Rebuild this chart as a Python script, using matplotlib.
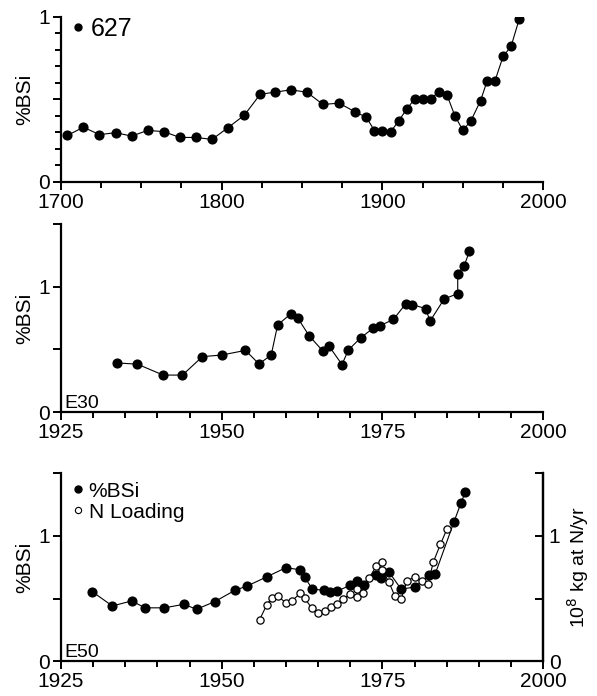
import matplotlib.pyplot as plt
from matplotlib.ticker import MultipleLocator, FixedLocator
from matplotlib.lines import Line2D

plt.rcParams['font.family'] = ['Liberation Sans', 'DejaVu Sans']

# コア 627
years_627 = [1704, 1714, 1724, 1734, 1744, 1754, 1764, 1774, 1784, 1794,
             1804, 1814, 1824, 1833, 1843, 1853, 1863, 1873, 1883, 1890,
             1895, 1900, 1905, 1910, 1915, 1920, 1925, 1930, 1935, 1940,
             1945, 1950, 1955, 1961, 1965, 1970, 1975, 1980, 1985]
bsi_627 = [0.28, 0.33, 0.285, 0.297, 0.276, 0.311, 0.303, 0.268, 0.268, 0.256,
           0.328, 0.402, 0.530, 0.542, 0.557, 0.542, 0.468, 0.476, 0.423, 0.390,
           0.309, 0.309, 0.301, 0.367, 0.439, 0.501, 0.501, 0.501, 0.546, 0.528,
           0.400, 0.311, 0.369, 0.491, 0.608, 0.612, 0.759, 0.821, 0.984]

# コア E30
years_e30 = [1933.7, 1936.9, 1940.9, 1943.9, 1947.0, 1950.0, 1953.7, 1955.8,
             1957.7, 1958.7, 1960.7, 1961.8, 1963.6, 1965.7, 1966.7, 1968.7,
             1969.7, 1971.6, 1973.6, 1974.6, 1976.7, 1978.6, 1979.6, 1981.7,
             1982.4, 1984.6, 1986.7, 1986.7, 1987.7, 1988.5]
bsi_e30 = [0.392, 0.382, 0.295, 0.295, 0.442, 0.455, 0.492, 0.384,
           0.455, 0.695, 0.782, 0.753, 0.608, 0.489, 0.526, 0.379,
           0.495, 0.592, 0.671, 0.689, 0.739, 0.863, 0.858, 0.826,
           0.726, 0.903, 0.945, 1.105, 1.166, 1.282]

# コア E50 (%BSi)
years_e50 = [1929.9, 1933.0, 1936.0, 1938.1, 1941.1, 1944.1, 1946.1, 1948.9,
             1952.1, 1953.9, 1957.0, 1960.0, 1962.1, 1962.9, 1964.1, 1965.9,
             1966.9, 1968.0, 1970.0, 1971.1, 1972.1, 1974.0, 1974.7, 1976.0,
             1977.9, 1980.1, 1982.3, 1983.2, 1986.1, 1987.2, 1987.9]
bsi_e50 = [0.554, 0.441, 0.481, 0.426, 0.426, 0.454, 0.415, 0.475,
           0.567, 0.599, 0.673, 0.747, 0.730, 0.671, 0.575, 0.567,
           0.554, 0.561, 0.606, 0.640, 0.608, 0.692, 0.661, 0.713,
           0.575, 0.593, 0.692, 0.697, 1.110, 1.262, 1.352]

# 窒素負荷 (10^8 kg at N/yr)
years_n = [1955.9, 1957.0, 1957.8, 1958.8, 1960.0, 1960.9, 1962.2, 1962.9,
           1964.0, 1965.0, 1966.0, 1967.0, 1968.0, 1968.9, 1970.0, 1971.0,
           1971.1, 1972.0, 1972.9, 1974.0, 1975.0, 1975.0, 1976.0, 1976.9,
           1977.9, 1978.8, 1980.0, 1981.1, 1982.1, 1982.9, 1984.0, 1985.0]
n_load = [0.332, 0.449, 0.507, 0.517, 0.464, 0.480, 0.542, 0.503,
          0.424, 0.382, 0.400, 0.435, 0.458, 0.495, 0.538, 0.515,
          0.575, 0.542, 0.661, 0.757, 0.791, 0.724, 0.632, 0.522,
          0.496, 0.640, 0.673, 0.640, 0.619, 0.791, 0.932, 1.052]

fs = 15
lw = 0.8
ms = 6.3


def style_axis(ax, right=False):
  ax.spines['top'].set_visible(False)
  ax.spines['right'].set_visible(right)
  for s in ['left', 'bottom', 'right']:
    ax.spines[s].set_linewidth(1.6)
  ax.tick_params(which='major', direction='out', length=6, width=1.4,
                 labelsize=fs, pad=2)
  ax.tick_params(which='minor', direction='out', length=4, width=1.4)


fig = plt.figure(figsize=(5.97, 6.96), dpi=100)
ax1 = fig.add_axes([0.102, 0.739, 0.808, 0.237])
ax2 = fig.add_axes([0.102, 0.408, 0.808, 0.270])
ax3 = fig.add_axes([0.102, 0.050, 0.808, 0.270])

# 627
ax1.plot(years_627, bsi_627, '-o', color='black', lw=lw, ms=ms)
ax1.set_xlim(1700, 2000)
ax1.set_ylim(0, 1)
ax1.xaxis.set_major_locator(MultipleLocator(100))
ax1.xaxis.set_minor_locator(MultipleLocator(25))
ax1.yaxis.set_major_locator(FixedLocator([0, 0.5, 1]))
ax1.yaxis.set_minor_locator(MultipleLocator(0.1))
ax1.set_yticklabels(['0', '', '1'])
ax1.set_ylabel('%BSi', fontsize=fs, labelpad=3)
style_axis(ax1)
h627 = Line2D([], [], ls='none', marker='o', color='black', ms=5)
ax1.legend([h627], ['627'], loc='upper left', frameon=False, fontsize=18,
           handlelength=0.4, handletextpad=0.3, borderaxespad=0.0,
           bbox_to_anchor=(0.005, 1.06))

# E30
ax2.plot(years_e30, bsi_e30, '-o', color='black', lw=lw, ms=ms)
ax2.set_xlim(1925, 2000)
ax2.set_ylim(0, 1.5)
ax2.xaxis.set_major_locator(MultipleLocator(25))
ax2.xaxis.set_minor_locator(MultipleLocator(5))
ax2.yaxis.set_major_locator(FixedLocator([0, 0.5, 1, 1.5]))
ax2.set_yticklabels(['0', '', '1', ''])
ax2.set_ylabel('%BSi', fontsize=fs, labelpad=3)
ax2.text(0.008, 0.02, 'E30', transform=ax2.transAxes, fontsize=14)
style_axis(ax2)

# E50 + 窒素負荷
ax3.plot(years_e50, bsi_e50, '-o', color='black', lw=lw, ms=ms)
ax3.set_xlim(1925, 2000)
ax3.set_ylim(0, 1.5)
ax3.xaxis.set_major_locator(MultipleLocator(25))
ax3.xaxis.set_minor_locator(MultipleLocator(5))
ax3.yaxis.set_major_locator(FixedLocator([0, 0.5, 1, 1.5]))
ax3.set_yticklabels(['0', '', '1', ''])
ax3.set_ylabel('%BSi', fontsize=fs, labelpad=3)
ax3.text(0.008, 0.02, 'E50', transform=ax3.transAxes, fontsize=14)
style_axis(ax3, right=True)

ax3r = ax3.twinx()
ax3r.plot(years_n, n_load, '-o', color='black', lw=lw, ms=5.2,
          mfc='white', mew=0.9)
ax3r.set_ylim(0, 1.5)
ax3r.yaxis.set_major_locator(FixedLocator([0, 0.5, 1, 1.5]))
ax3r.set_yticklabels(['0', '', '1', ''])
ax3r.set_ylabel('10$^8$ kg at N/yr', fontsize=14, labelpad=3)
style_axis(ax3r, right=True)
ax3r.spines['left'].set_visible(False)
ax3r.spines['bottom'].set_visible(False)
ax3r.tick_params(axis='y', direction='in', length=6, pad=4)

hb = Line2D([], [], ls='none', marker='o', color='black', ms=5)
hn = Line2D([], [], ls='none', marker='o', color='black', mfc='white',
            ms=4.5, mew=0.8)
ax3r.legend([hb, hn], ['%BSi', 'N Loading'], loc='upper left', frameon=False,
            fontsize=15, handlelength=0.4, handletextpad=0.3,
            labelspacing=0.1, borderaxespad=0.0,
            bbox_to_anchor=(0.01, 1.0))

plt.savefig('out.png', dpi=100)
